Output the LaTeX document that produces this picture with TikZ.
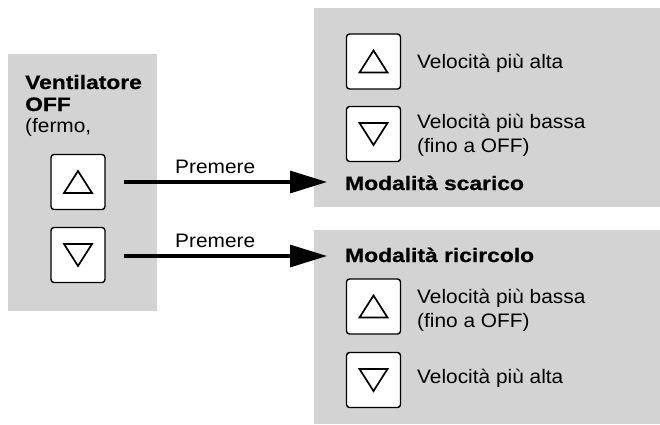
\documentclass[tikz,border=0pt]{standalone}
\usepackage{fontspec}
\setmainfont{Liberation Sans}[FakeStretch=1.07]
\newfontfamily\heavyfont{Liberation Sans}[FakeStretch=1.17, BoldFeatures={FakeBold=0.6}]
\usetikzlibrary{arrows.meta}
\definecolor{panelgray}{RGB}{211,211,211}
\begin{document}
\begin{tikzpicture}[x=1pt,y=-1pt,
  panel/.style={fill=panelgray, draw=none, inner sep=0pt},
  btn/.style={draw=black, line width=1.4pt, fill=white, rounded corners=3pt,
    minimum width=54pt, minimum height=55pt, inner sep=0pt},
  tri/.style={draw=black, line width=1.7pt, line join=miter},
  txt/.style={font=\fontsize{19.5}{24}\selectfont, anchor=base west, inner sep=0pt, align=left},
  boldtxt/.style={font=\fontsize{19.5}{22}\selectfont\heavyfont\bfseries, anchor=base west, inner sep=0pt, align=left},
  arr/.style={line width=3.2pt, -{Triangle[length=37pt,width=22pt]}}]
\useasboundingbox (0,0) rectangle (660,424);
% panels
\fill[panel] (8,54) rectangle (157,311);
\fill[panel] (314,8) rectangle (660,207);
\fill[panel] (314,230) rectangle (660,424);
% left panel
\node[boldtxt] (vent) at (25,111) {Ventilatore\\OFF};
\node[txt] (fermo) at (25,132) {(fermo,};
\node[btn] (lb1) at (78,182) {};
\node[btn] (lb2) at (78,255) {};
\draw[tri,shift={(lb1.center)}] (-14,11) -- (14,11) -- (0,-11) -- cycle;
\draw[tri,shift={(lb2.center)}] (-14,-11) -- (14,-11) -- (0,11) -- cycle;
% top right panel
\node[btn] (tb1) at (373.5,61.5) {};
\node[btn] (tb2) at (373.5,134) {};
\draw[tri,shift={(tb1.center)}] (-14,11) -- (14,11) -- (0,-11) -- cycle;
\draw[tri,shift={(tb2.center)}] (-14,-11) -- (14,-11) -- (0,11) -- cycle;
\node[txt] (hi1) at (417,68) {Velocità più alta};
\node[txt] (lo1) at (417,152) {Velocità più bassa\\(fino a OFF)};
\node[boldtxt] (mode1) at (345,190) {Modalità scarico};
% bottom right panel
\node[boldtxt] (mode2) at (345,262) {Modalità ricircolo};
\node[btn] (bb1) at (373.5,306.5) {};
\node[btn] (bb2) at (373.5,380) {};
\draw[tri,shift={(bb1.center)}] (-14,11) -- (14,11) -- (0,-11) -- cycle;
\draw[tri,shift={(bb2.center)}] (-14,-11) -- (14,-11) -- (0,11) -- cycle;
\node[txt] (lo2) at (417,327) {Velocità più bassa\\(fino a OFF)};
\node[txt] (hi2) at (417,383) {Velocità più alta};
% arrows
\coordinate (e1) at (327,182);
\coordinate (e2) at (327,256);
\draw[arr] ([xshift=18pt]lb1.east) -- (e1);
\draw[arr] ([xshift=18pt,yshift=-1pt]lb2.east) -- (e2);
\node[txt] (p1) at (175,173) {Premere};
\node[txt] (p2) at (175,247) {Premere};
\end{tikzpicture}
\end{document}
